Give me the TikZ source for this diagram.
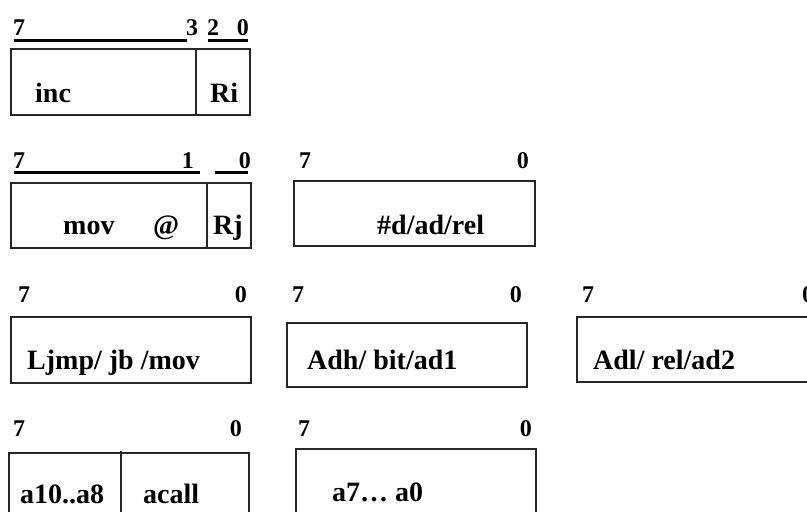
\documentclass[tikz,border=0pt]{standalone}
\usepackage{fontspec}
\setmainfont{Liberation Serif}
\begin{document}
\begin{tikzpicture}[x=1pt,y=-1pt,
  field/.style={draw=black!85,line width=1.4pt},
  bar/.style={line width=3pt},
  lbl/.style={inner sep=0pt,font=\fontsize{24}{28}\selectfont\bfseries},
  txt/.style={inner sep=0pt,anchor=base west,font=\fontsize{28}{32}\selectfont\bfseries},
  lw/.style={lbl,anchor=base west},
  le/.style={lbl,anchor=base east}]
\useasboundingbox (0,0) rectangle (807,512);
\clip (0,0) rectangle (807,512);

% inc Ri : bits 7..3 | 2..0
\node[lw] (b1h) at (13,35) {7};
\node[lw] (b1m) at (186,35) {3};
\node[lw] (b1n) at (207,35) {2};
\node[le] (b1l) at (249,35) {0};
\draw[bar] (14,40) -- (187,40);
\draw[bar] (208,40) -- (248,40);
\draw[field] (11,49) rectangle (250,115);
\draw[field] (196,49) -- (196,115);
\node[txt] (inc) at (35,102) {inc};
\node[txt] (ri) at (210,102) {Ri};

% mov @Rj : bits 7..1 | 0
\node[lw] (b2h) at (13,168) {7};
\node[le] (b2m) at (194,168) {1};
\node[le] (b2l) at (251,168) {0};
\draw[bar] (14,172) -- (200,172);
\draw[bar] (215,172) -- (248,172);
\draw[field] (11,183) rectangle (251,248);
\draw[field] (207,183) -- (207,248);
\node[txt] (mov) at (63,234) {mov};
\node[txt] (at) at (153,234) {@};
\node[txt] (rj) at (213,234) {Rj};

% second byte
\node[lw] (b3h) at (299,168) {7};
\node[le] (b3l) at (529,168) {0};
\draw[field] (294,181) rectangle (535,246);
\node[txt] (imm) at (377,234) {\#d/ad/rel};

% three-byte instruction
\node[lw] (b4h) at (18,302) {7};
\node[le] (b4l) at (247,302) {0};
\draw[field] (11,317) rectangle (251,383);
\node[txt] (op3) at (27,369) {Ljmp/ jb /mov};

\node[lw] (b5h) at (292,302) {7};
\node[le] (b5l) at (522,302) {0};
\draw[field] (287,323) rectangle (527,387);
\node[txt] (hi3) at (307,369) {Adh/ bit/ad1};

\node[lw] (b6h) at (582,302) {7};
\node[lw] (b6l) at (802,302) {0};
\draw[field] (577,317) rectangle (830,382);
\node[txt] (lo3) at (593,369) {Adl/ rel/ad2};

% acall
\node[lw] (b7h) at (13,436) {7};
\node[le] (b7l) at (242,436) {0};
\draw[field] (9,453) rectangle (249,530);
\draw[field] (121,451) -- (121,530);
\node[txt] (ahi) at (20,503) {a10..a8};
\node[txt] (acall) at (143,503) {acall};

\node[lw] (b8h) at (298,436) {7};
\node[le] (b8l) at (532,436) {0};
\draw[field] (296,449) rectangle (536,530);
\node[txt] (alo) at (332,501) {a7… a0};
\end{tikzpicture}
\end{document}
